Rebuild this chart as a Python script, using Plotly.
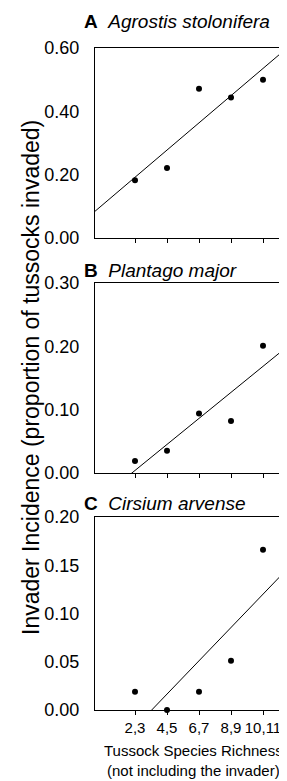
import numpy as np
import plotly.graph_objects as go

# ---- data ----
richness_pos = [2.5, 4.5, 6.5, 8.5, 10.5]
richness_labels = ["2,3", "4,5", "6,7", "8,9", "10,11"]
agrostis = [0.182, 0.221, 0.471, 0.444, 0.500]
plantago = [0.019, 0.035, 0.094, 0.082, 0.201]
cirsium = [0.019, 0.000, 0.019, 0.051, 0.166]

panel_letters = ["A", "B", "C"]
panel_species = ["Agrostis stolonifera", "Plantago major", "Cirsium arvense"]
panel_series = [agrostis, plantago, cirsium]
panel_yranges = [[0, 0.60], [0, 0.30], [0, 0.20]]
panel_yticks = [[0, 0.2, 0.4, 0.6], [0, 0.1, 0.2, 0.3], [0, 0.05, 0.10, 0.15, 0.20]]
x_range = [0, 12]

W, H = 287, 781
ML, MR, MT, MB = 87, 8, 40, 79
PH = H - MT - MB
PW = W - ML - MR
bottom_px = H - MB


def py(p):
    return (bottom_px - p) / PH


def px(p):
    return (p - ML) / PW


domains = [[py(230), py(40)], [py(465), py(275)], [py(702), py(509)]]

FONT = "Liberation Sans, Arial, sans-serif"

fig = go.Figure()
for i, (ys, dom, yr, yt) in enumerate(zip(panel_series, domains, panel_yranges, panel_yticks)):
    n = "" if i == 0 else str(i + 1)
    xa, ya = "x" + n, "y" + n
    slope, intercept = np.polyfit(richness_pos, ys, 1)
    fig.add_trace(go.Scatter(x=x_range, y=[intercept + slope * x for x in x_range],
                             mode="lines", line=dict(color="black", width=1),
                             xaxis=xa, yaxis=ya, showlegend=False, hoverinfo="skip"))
    fig.add_trace(go.Scatter(x=richness_pos, y=ys, mode="markers",
                             marker=dict(color="black", size=6),
                             cliponaxis=False, xaxis=xa, yaxis=ya, showlegend=False))
    fig.layout["xaxis" + n] = dict(
        domain=[0, 1], range=x_range, anchor=ya,
        tickvals=richness_pos, ticktext=richness_labels,
        showticklabels=(i == 2), tickangle=0,
        ticks="outside", ticklen=4, tickwidth=1, tickcolor="black",
        showline=True, mirror=True, linecolor="black", linewidth=1,
        showgrid=False, zeroline=False,
        tickfont=dict(family=FONT, size=15, color="black"),
    )
    fig.layout["yaxis" + n] = dict(
        domain=dom, range=yr, anchor=xa,
        tickvals=yt, tickformat=".2f", ticks="", ticklabelstandoff=11,
        showline=True, mirror=True, linecolor="black", linewidth=1,
        showgrid=False, zeroline=False,
        tickfont=dict(family=FONT, size=18, color="black"),
    )

title_y_px = [14, 262, 495]
for letter, sp, ty in zip(panel_letters, panel_species, title_y_px):
    fig.add_annotation(text=f"<b>{letter}</b>\u00a0\u00a0<i>{sp}</i>",
                       xref="paper", yref="paper", x=px(74), y=py(ty),
                       xanchor="left", yanchor="middle", showarrow=False,
                       font=dict(family=FONT, size=19, color="black"))

fig.add_annotation(text="Invader Incidence (proportion of tussocks invaded)",
                   xref="paper", yref="paper", x=px(23), y=py(370),
                   xanchor="center", yanchor="middle", textangle=-90, showarrow=False,
                   font=dict(family=FONT, size=23, color="black"))

fig.add_annotation(text="Tussock Species Richness<br>(not including the invader)",
                   xref="paper", yref="paper", x=px(185), y=py(752),
                   xanchor="center", yanchor="middle", showarrow=False,
                   font=dict(family=FONT, size=15, color="black"))

fig.update_layout(width=W, height=H, margin=dict(l=ML, r=MR, t=MT, b=MB),
                  paper_bgcolor="white", plot_bgcolor="white")

fig.write_html("out.html")
